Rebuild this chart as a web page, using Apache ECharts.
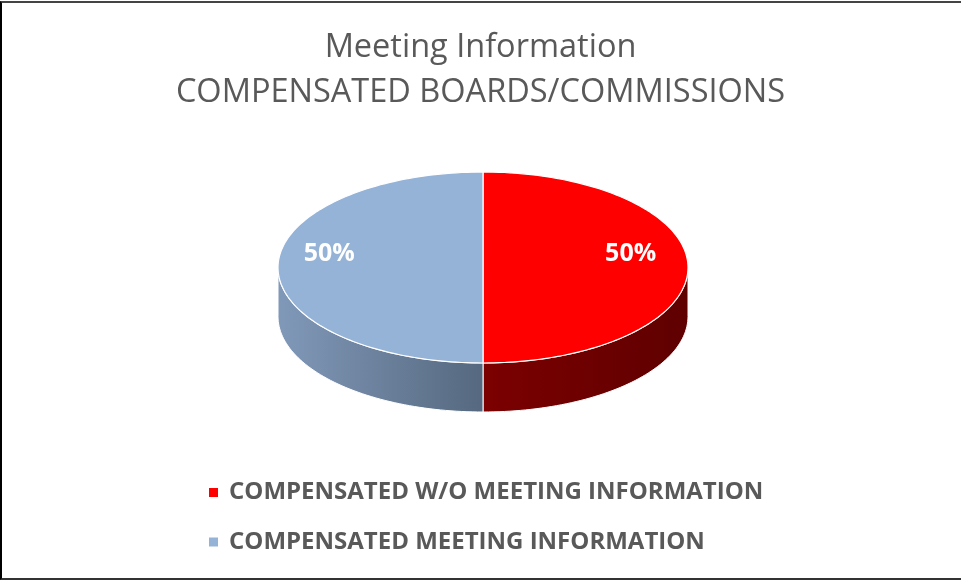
<!DOCTYPE html>
<html>
<head>
<meta charset="utf-8">
<script src="https://cdn.jsdelivr.net/npm/echarts@6/dist/echarts.min.js"></script>
<style>
  html, body { margin: 0; padding: 0; background: #fff; }
  #frame { position: absolute; left: 0; top: 1px; width: 961px; height: 575px;
           border-left: 2px solid #000; border-top: 2px solid #444; border-bottom: 2px solid #333; box-sizing: content-box; }
  #chart { position: absolute; left: 0; top: 0; width: 961px; height: 580px; }
</style>
</head>
<body>
<div id="frame"></div>
<div id="chart"></div>
<script>
// ---- data ----
const titleLines = ['Meeting Information', 'COMPENSATED BOARDS/COMMISSIONS'];
const categories = ['COMPENSATED W/O MEETING INFORMATION', 'COMPENSATED MEETING INFORMATION'];
const values = [50, 50];

// ---- style ----
const topColors = ['#FF0000', '#95B3D7'];
const sideColors = [['#7C0000', '#5F0000'], ['#8199B9', '#55687F']];
const CX = 483, CY = 267.5, RX = 205, RY = 95.5, DEPTH = 49;

const total = values.reduce((a, b) => a + b, 0);

function pt(t, dy) {
  return [CX + RX * Math.sin(t), CY - RY * Math.cos(t) + (dy || 0)];
}
function arc(a, b, dy) {
  const n = Math.max(2, Math.ceil(Math.abs(b - a) / (Math.PI * 2) * 240));
  const out = [];
  for (let k = 0; k <= n; k++) out.push(pt(a + (b - a) * k / n, dy));
  return out;
}

function makeRender(i) {
  return function (params, api) {
    const v = api.value(0);
    let start = 0;
    for (let k = 0; k < i; k++) start += values[k];
    const a0 = start / total * Math.PI * 2;
    const a1 = (start + v) / total * Math.PI * 2;
    const children = [];
    const s0 = Math.max(a0, Math.PI / 2), s1 = Math.min(a1, Math.PI * 1.5);
    if (s1 > s0) {
      const pts = arc(s0, s1, 0).concat(arc(s1, s0, DEPTH));
      children.push({
        type: 'polygon',
        shape: { points: pts },
        style: {
          fill: new echarts.graphic.LinearGradient(0, 0, 1, 0, [
            { offset: 0, color: sideColors[i][0] },
            { offset: 1, color: sideColors[i][1] }
          ]),
          stroke: '#fff', lineWidth: 1
        }
      });
    }
    children.push({
      type: 'polygon',
      shape: { points: [[CX, CY]].concat(arc(a0, a1, 0)) },
      style: { fill: topColors[i], stroke: '#fff', lineWidth: 1.2 }
    });
    const mid = (a0 + a1) / 2;
    children.push({
      type: 'text',
      x: CX + 0.735 * RX * Math.sin(mid) - 3,
      y: CY - 0.73 * RY * Math.cos(mid) - 14,
      style: {
        text: Math.round(v / total * 100) + '%',
        fill: '#fff',
        fontSize: 25, fontWeight: 'bold', fontFamily: '"Open Sans"',
        align: 'center', verticalAlign: 'middle'
      }
    });
    return { type: 'group', children: children };
  };
}

const chart = echarts.init(document.getElementById('chart'), null, { renderer: 'canvas' });
chart.setOption({
  animation: false,
  title: {
    text: titleLines.join('\n'),
    left: 'center', top: 25, padding: 0,
    textStyle: { fontFamily: '"Open Sans"', fontSize: 32.5, fontWeight: 'normal', color: '#595959', lineHeight: 45 }
  },
  legend: {
    data: categories,
    orient: 'vertical',
    left: 209, top: 480, padding: 0,
    itemWidth: 9, itemHeight: 9, itemGap: 24.5,
    icon: 'rect',
    selectedMode: false,
    textStyle: { fontFamily: '"Open Sans"', fontSize: 24, fontWeight: 'bold', color: '#595959', lineHeight: 25, padding: [0, 0, 0, 6] }
  },
  series: categories.map((name, i) => ({
    type: 'custom',
    name: name,
    coordinateSystem: 'none',
    itemStyle: { color: topColors[i] },
    data: [[values[i]]],
    renderItem: makeRender(i)
  }))
});
</script>
</body>
</html>
